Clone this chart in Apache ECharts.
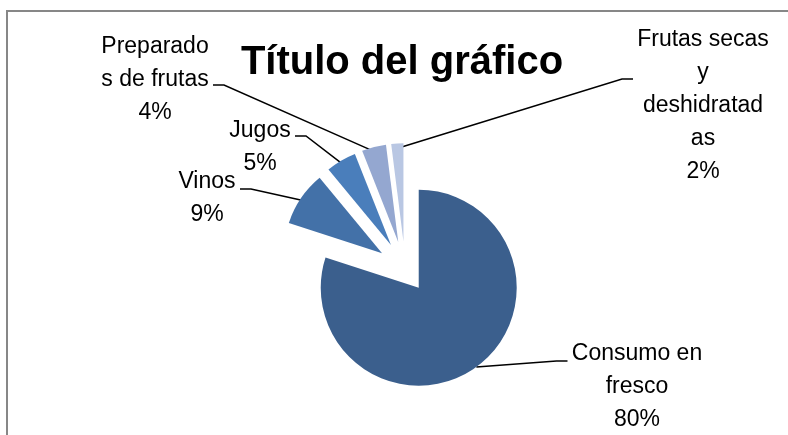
<!DOCTYPE html>
<html>
<head>
<meta charset="utf-8">
<script src="https://cdn.jsdelivr.net/npm/echarts@6/dist/echarts.min.js"></script>
<style>
html,body{margin:0;padding:0;background:#fff;}
#c{width:788px;height:435px;}
</style>
</head>
<body>
<div id="c"></div>
<script>
var titleText = 'Título del gráfico';
var categories = ['Consumo en fresco', 'Vinos', 'Jugos', 'Preparados de frutas', 'Frutas secas y deshidratadas'];
var labelNames = ['Consumo en\nfresco', 'Vinos', 'Jugos', 'Preparado\ns de frutas', 'Frutas secas\ny\ndeshidratad\nas'];
var values = [80, 9, 5, 4, 2];
var group = ['main', 'small', 'small', 'small', 'small'];
var colors = ['#3B5F8D', '#4371A8', '#4A7EBB', '#94A7D0', '#B9C7E3'];

// label text-block centres, and the height where each leader line meets its label
var labelPos = [[637, 387], [207, 198], [260, 147], [155, 80], [703, 106]];
var labelAttachY = [361, 189, 136, 85, 79];

var LABEL_FONT = '23px "Liberation Sans"';
var GAP = 4;

var chart = echarts.init(document.getElementById('c'), null, {renderer: 'canvas'});

function sliceData(g) {
  return categories.map(function (c, i) {
    var on = group[i] === g;
    return {
      name: c,
      value: values[i],
      selected: on,
      itemStyle: {color: on ? colors[i] : 'rgba(0,0,0,0)'}
    };
  });
}
var labelData = categories.map(function (c, i) {
  return {name: c, value: values[i]};
});

// spacer height that moves the label box middle onto the leader-line height
function spacer(i) { return 2 * (labelPos[i][1] - labelAttachY[i]); }

var ctx = document.createElement('canvas').getContext('2d');
ctx.font = LABEL_FONT;
function widest(i) {
  var lines = labelNames[i].split('\n');
  var w = 0;
  lines.forEach(function (l) { w = Math.max(w, ctx.measureText(l).width); });
  return w;
}

var center = [405.2, 269.1];
var common = {
  type: 'pie',
  center: center,
  startAngle: 90,
  clockwise: true,
  emphasis: {disabled: true},
  itemStyle: {borderWidth: 0}
};

function slicesSeries(g, offset, z) {
  return Object.assign({}, common, {
    radius: 98,
    z: z,
    silent: true,
    selectedMode: 'multiple',
    selectedOffset: offset,
    select: {itemStyle: {borderWidth: 0}, label: {show: false}, labelLine: {show: false}},
    label: {show: false},
    labelLine: {show: false},
    data: sliceData(g)
  });
}

var rich = {};
categories.forEach(function (c, i) {
  rich['sp' + i] = {
    fontSize: 1,
    lineHeight: Math.max(1, Math.abs(spacer(i))),
    width: Math.ceil(widest(i)) + 2 * GAP
  };
});

chart.setOption({
  animation: false,
  title: {
    text: titleText,
    left: 397,
    top: 38,
    textAlign: 'center',
    textStyle: {fontFamily: 'Liberation Sans', fontWeight: 'bold', fontSize: 40, color: '#000'}
  },
  graphic: [{
    type: 'rect',
    shape: {x: 7, y: 11, width: 820, height: 460},
    style: {fill: 'none', stroke: '#878787', lineWidth: 2},
    silent: true,
    z: -1
  }],
  series: [
    Object.assign({}, common, {
      name: 'labels',
      radius: 121,
      z: 1,
      silent: true,
      selectedMode: false,
      itemStyle: {color: 'rgba(0,0,0,0)', borderWidth: 0},
      data: labelData,
      label: {
        show: true,
        position: 'outside',
        fontFamily: 'Liberation Sans',
        fontSize: 23,
        lineHeight: 33,
        color: '#000',
        align: 'center',
        rich: rich,
        formatter: function (p) {
          var i = p.dataIndex;
          var body = labelNames[i] + '\n' + Math.round(p.percent) + '%';
          var s = spacer(i);
          var sp = '{sp' + i + '| }';
          if (s < 0) return body + '\n' + sp;
          return sp + '\n' + body;
        }
      },
      labelLine: {
        show: true,
        length: 20,
        length2: 11,
        lineStyle: {color: '#000', width: 1.5}
      },
      labelLayout: function (params) {
        var i = params.dataIndex;
        return {x: labelPos[i][0], y: labelAttachY[i], align: 'center', verticalAlign: 'middle'};
      }
    }),
    slicesSeries('main', 23, 2),
    slicesSeries('small', 28, 3)
  ]
});
</script>
</body>
</html>
